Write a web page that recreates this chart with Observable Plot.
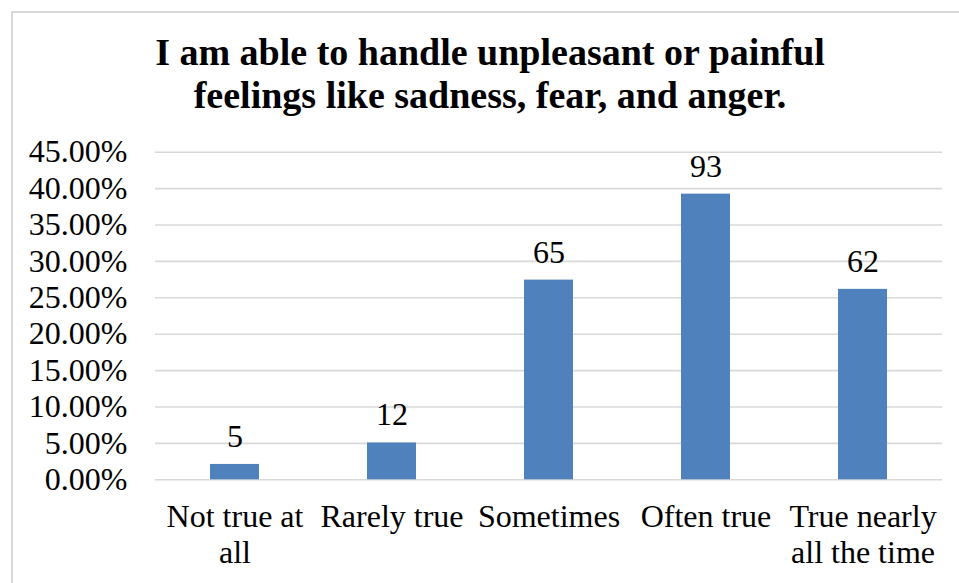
<!DOCTYPE html>
<html>
<head>
<meta charset="utf-8">
<script src="https://cdn.jsdelivr.net/npm/d3@7"></script>
<script src="https://cdn.jsdelivr.net/npm/@observablehq/plot@0.6"></script>
<style>
  html, body { margin: 0; padding: 0; background: #fff; }
  #wrap { position: relative; width: 959px; height: 583px; overflow: hidden; background: #fff; }
  #frame { position: absolute; left: 11px; top: 11px; width: 980px; height: 600px;
           border-left: 2px solid #d9d9d9; border-top: 2px solid #d9d9d9; box-sizing: border-box; }
  #title { position: absolute; left: 21px; width: 938px; top: 30.7px; text-align: center;
           font-family: "Liberation Serif", "Times New Roman", Tinos, "DejaVu Serif", "Noto Serif", serif; font-weight: bold;
           font-size: 38px; line-height: 43px; color: #000; white-space: nowrap; }
  #chart { position: absolute; left: 0; top: 0; }
  #chart svg text { font-family: "Liberation Serif", "Times New Roman", Tinos, "DejaVu Serif", "Noto Serif", serif; }
</style>
</head>
<body>
<div id="wrap">
  <div id="frame"></div>
  <div id="chart"></div>
  <div id="title">I am able to handle unpleasant or painful<br>feelings like sadness, fear, and anger.</div>
</div>
<script>
const categories = ["Not true at all", "Rarely true", "Sometimes", "Often true", "True nearly all the time"];
const tickLabels = ["Not true at\nall", "Rarely true", "Sometimes", "Often true", "True nearly\nall the time"];
const counts = [5, 12, 65, 93, 62];
const percents = [2.11, 5.06, 27.43, 39.24, 26.16];
const yTicks = [0, 5, 10, 15, 20, 25, 30, 35, 40, 45];

const data = categories.map((c, i) => ({cat: c, label: tickLabels[i], count: counts[i], pct: percents[i]}));
const font = "'Liberation Serif', 'Times New Roman', Tinos, 'DejaVu Serif', 'Noto Serif', serif";

const chart = Plot.plot({
  width: 959,
  height: 583,
  marginLeft: 155,
  marginRight: 17,
  marginTop: 151.7,
  marginBottom: 103.7,
  style: {fontFamily: font, fontSize: "32px", color: "#000", background: "transparent", overflow: "visible"},
  x: {domain: categories, paddingInner: 0.69, paddingOuter: 0.345, align: 0.5, axis: null},
  y: {domain: [0, 45], ticks: yTicks, axis: null},
  marks: [
    Plot.ruleY(yTicks, {stroke: "#d9d9d9", strokeWidth: 1.6}),
    Plot.barY(data, {x: "cat", y: "pct", fill: "#4f81bd"}),
    Plot.text(data, {x: "cat", y: "pct", text: d => String(d.count), lineAnchor: "bottom", dy: -17.5,
      fontSize: 32, fill: "#000", fontFamily: font}),
    Plot.text(yTicks, {y: d => d, text: d => d.toFixed(2) + "%", frameAnchor: "left", textAnchor: "end",
      dx: -28, fontSize: 32, fill: "#000", fontFamily: font}),
    Plot.text(data, {x: "cat", text: "label", frameAnchor: "bottom", lineAnchor: "top", lineHeight: 1.125,
      dy: 21.8, fontSize: 32, fill: "#000", fontFamily: font})
  ]
});
document.getElementById("chart").appendChild(chart);
</script>
</body>
</html>
